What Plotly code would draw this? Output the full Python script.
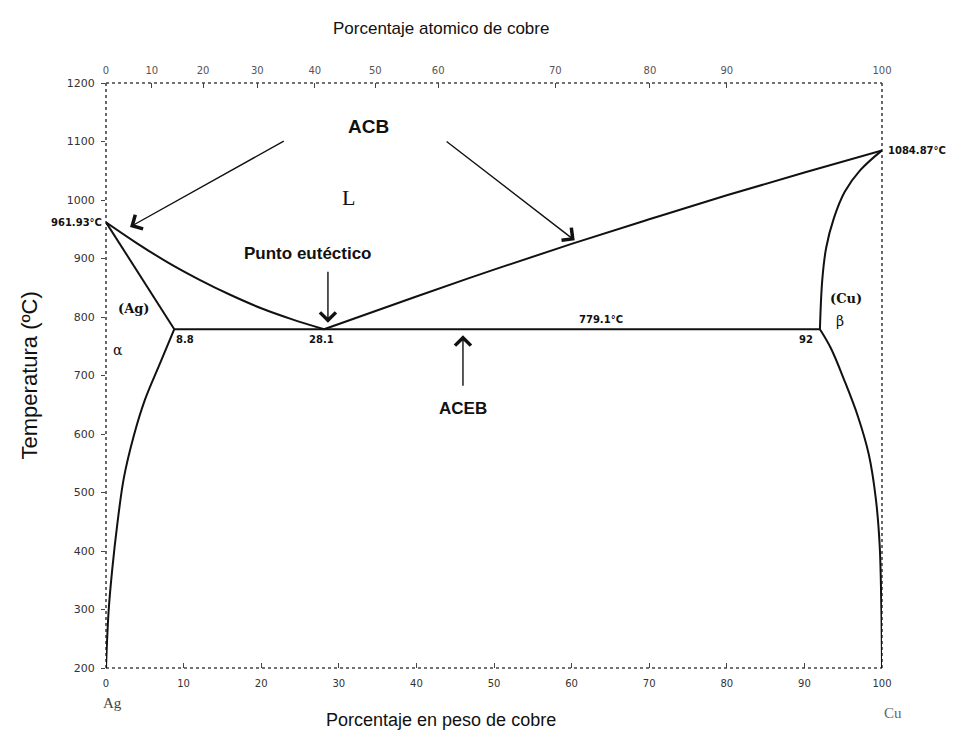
import plotly.graph_objects as go

# ---- data (wt% Cu, temperature °C) ----
liq_left_x = [0, 4, 8, 12, 16, 20, 24, 28.1]
liq_left_t = [961.93, 926, 893, 864, 838, 815, 796, 779.1]
liq_right_x = [28.1, 40, 50, 60, 70, 80, 90, 100]
liq_right_t = [779.1, 835, 881, 925, 967, 1008, 1047, 1084.87]
sol_ag_x = [0, 8.8]
sol_ag_t = [961.93, 779.1]
solv_ag_x = [8.8, 7.0, 5.0, 3.6, 2.3, 1.45, 0.8, 0.35, 0.1, 0]
solv_ag_t = [779.1, 722, 658, 598, 525, 445, 368, 300, 235, 200]
sol_cu_x = [100, 97.2, 95.2, 93.8, 92.8, 92.3, 92.0]
sol_cu_t = [1084.87, 1051, 1014, 969, 918, 863, 779.1]
solv_cu_x = [92.0, 93.4, 95.2, 96.9, 98.3, 99.2, 99.7, 99.92, 100]
solv_cu_t = [779.1, 747, 690, 630, 565, 490, 410, 300, 200]
eut_x = [8.8, 92.0]
eut_t = [779.1, 779.1]

# tick labels
y_ticks = [200, 300, 400, 500, 600, 700, 800, 900, 1000, 1100, 1200]
x_ticks = [0, 10, 20, 30, 40, 50, 60, 70, 80, 90, 100]
top_tick_labels = ["0", "10", "20", "30", "40", "50", "60", "70", "80", "90", "100"]
top_tick_pos = [0, 5.9, 12.5, 19.5, 26.9, 34.7, 42.8, 57.9, 70.1, 80.0, 100]

# arrows: (tip_x, tip_t, tail_x, tail_t)
arrows = [
    (3.1, 954, 23.1, 1102),
    (60.4, 931, 43.7, 1102),
    (28.6, 790, 28.6, 880),
    (46.0, 769, 46.0, 680),
]

# text labels: (text, x, t, size, family, bold)
labels = [
    ("ACB", 33.8, 1125, 19, "Liberation Sans", True),
    ("L", 31.2, 1005, 22, "Liberation Serif", False),
    ("Punto eutéctico", 26.0, 909, 17, "Liberation Sans", True),
    ("(Ag)", 3.6, 815, 13, "DejaVu Serif", True),
    ("8.8", 10.2, 762, 10, "DejaVu Sans", True),
    ("28.1", 27.8, 762, 10, "DejaVu Sans", True),
    ("779.1°C", 63.8, 795, 10, "DejaVu Sans", True),
    ("92", 90.2, 762, 10, "DejaVu Sans", True),
    ("(Cu)", 95.4, 832, 13, "DejaVu Serif", True),
    ("β", 94.6, 793, 14, "DejaVu Serif", False),
    ("α", 1.5, 744, 14, "DejaVu Serif", False),
    ("ACEB", 46.0, 643, 17, "Liberation Sans", True),
]

fig = go.Figure()
line_style = dict(color="#111111", width=2)
for xs, ts, shape in [
    (liq_left_x, liq_left_t, "spline"),
    (liq_right_x, liq_right_t, "spline"),
    (sol_ag_x, sol_ag_t, "linear"),
    (solv_ag_x, solv_ag_t, "spline"),
    (sol_cu_x, sol_cu_t, "spline"),
    (solv_cu_x, solv_cu_t, "spline"),
    (eut_x, eut_t, "linear"),
]:
    fig.add_trace(go.Scatter(x=xs, y=ts, mode="lines",
                             line=dict(shape=shape, smoothing=1.0, **line_style),
                             showlegend=False, hoverinfo="skip"))

# invisible trace to carry the top axis
fig.add_trace(go.Scatter(x=[0, 100], y=[200, 200], xaxis="x2", mode="lines",
                         line=dict(width=0), showlegend=False, hoverinfo="skip"))

for tx, tt, sx, st in arrows:
    fig.add_annotation(x=tx, y=tt, ax=sx, ay=st, xref="x", yref="y",
                       axref="x", ayref="y", text="", showarrow=True,
                       arrowhead=4, arrowsize=2.2, arrowwidth=1.4,
                       arrowcolor="#111111")

for text, x, t, size, fam, bold in labels:
    fig.add_annotation(x=x, y=t, xref="x", yref="y", showarrow=False,
                       text=f"<b>{text}</b>" if bold else text,
                       font=dict(size=size, family=fam, color="#111111"))

# temperature labels at pure components
fig.add_annotation(x=0, y=sol_ag_t[0], xref="x", yref="y", showarrow=False,
                   text="<b>961.93°C</b>", xanchor="right", xshift=-2,
                   font=dict(size=10, family="DejaVu Sans", color="#111111"))
fig.add_annotation(x=100, y=sol_cu_t[0], xref="x", yref="y", showarrow=False,
                   text="<b>1084.87°C</b>", xanchor="left", xshift=4,
                   font=dict(size=10, family="DejaVu Sans", color="#111111"))

# element labels and axis titles
fig.add_annotation(x=0, y=-0.06, xref="x", yref="paper", showarrow=False,
                   text="Ag", xshift=6, yanchor="middle",
                   font=dict(size=15, family="Liberation Serif", color="#444444"))
fig.add_annotation(x=100, y=-0.077, xref="x", yref="paper", showarrow=False,
                   text="Cu", xshift=11, yanchor="middle",
                   font=dict(size=15, family="Liberation Serif", color="#666666"))
fig.add_annotation(x=0.432, y=-0.089, xref="paper", yref="paper", showarrow=False,
                   text="Porcentaje en peso de cobre",
                   xanchor="center", yanchor="middle",
                   font=dict(size=18, family="Liberation Sans", color="#111111"))
fig.add_annotation(x=0.432, y=1.094, xref="paper", yref="paper", showarrow=False,
                   text="Porcentaje atomico de cobre",
                   xanchor="center", yanchor="middle",
                   font=dict(size=17, family="Liberation Sans", color="#111111"))
fig.add_annotation(x=-0.098, y=0.5, xref="paper", yref="paper", showarrow=False,
                   text="Temperatura (ºC)", textangle=-90,
                   xanchor="center", yanchor="middle",
                   font=dict(size=22, family="Liberation Sans", color="#111111"))

# dotted frame
frame = dict(color="#444444", width=1.6, dash="dot")
for x0, y0, x1, y1 in [(0, 0, 1, 0), (0, 1, 1, 1), (0, 0, 0, 1), (1, 0, 1, 1)]:
    fig.add_shape(type="line", xref="paper", yref="paper",
                  x0=x0, y0=y0, x1=x1, y1=y1, line=frame, layer="below")

fig.update_layout(
    width=956, height=723,
    margin=dict(l=98, r=82, t=75, b=63),
    paper_bgcolor="white", plot_bgcolor="white",
    xaxis=dict(range=[0, 100], tickvals=x_ticks, ticks="inside", ticklen=5,
               tickcolor="#444", showgrid=False, zeroline=False, showline=False,
               ticklabelstandoff=8,
               tickfont=dict(size=10, family="DejaVu Sans", color="#333333")),
    xaxis2=dict(range=[0, 100], overlaying="x", side="top", tickvals=top_tick_pos,
                ticktext=top_tick_labels, ticks="inside", ticklen=5,
                tickcolor="#444", showgrid=False, zeroline=False, showline=False,
                ticklabelstandoff=6,
                tickfont=dict(size=10, family="DejaVu Sans", color="#555555")),
    yaxis=dict(range=[200, 1200], tickvals=y_ticks, ticks="outside", ticklen=4,
               tickcolor="#444", showgrid=False, zeroline=False, showline=False,
               ticklabelstandoff=4,
               tickfont=dict(size=11, family="DejaVu Sans", color="#333333")),
    showlegend=False,
)

fig.write_html("out.html")
